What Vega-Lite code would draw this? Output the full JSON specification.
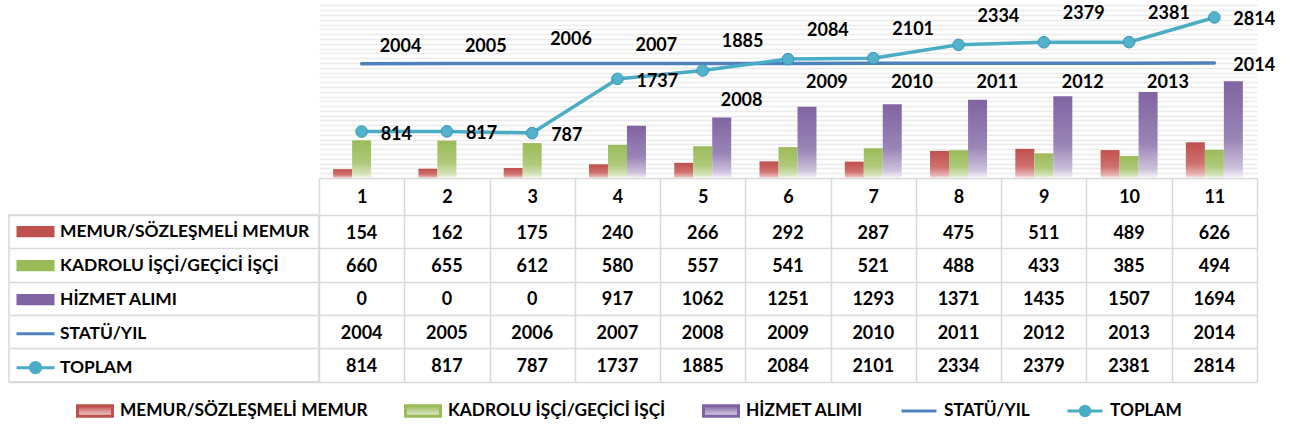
{
  "$schema": "https://vega.github.io/schema/vega-lite/v6.json",
  "padding": {"left": 8, "top": 0, "right": 4, "bottom": 4},
  "background": "white",
  "datasets": {
    "t": [
      {"cat": 1, "series": "MEMUR/SÖZLEŞMELİ MEMUR", "value": 154},
      {"cat": 2, "series": "MEMUR/SÖZLEŞMELİ MEMUR", "value": 162},
      {"cat": 3, "series": "MEMUR/SÖZLEŞMELİ MEMUR", "value": 175},
      {"cat": 4, "series": "MEMUR/SÖZLEŞMELİ MEMUR", "value": 240},
      {"cat": 5, "series": "MEMUR/SÖZLEŞMELİ MEMUR", "value": 266},
      {"cat": 6, "series": "MEMUR/SÖZLEŞMELİ MEMUR", "value": 292},
      {"cat": 7, "series": "MEMUR/SÖZLEŞMELİ MEMUR", "value": 287},
      {"cat": 8, "series": "MEMUR/SÖZLEŞMELİ MEMUR", "value": 475},
      {"cat": 9, "series": "MEMUR/SÖZLEŞMELİ MEMUR", "value": 511},
      {"cat": 10, "series": "MEMUR/SÖZLEŞMELİ MEMUR", "value": 489},
      {"cat": 11, "series": "MEMUR/SÖZLEŞMELİ MEMUR", "value": 626},
      {"cat": 1, "series": "KADROLU İŞÇİ/GEÇİCİ İŞÇİ", "value": 660},
      {"cat": 2, "series": "KADROLU İŞÇİ/GEÇİCİ İŞÇİ", "value": 655},
      {"cat": 3, "series": "KADROLU İŞÇİ/GEÇİCİ İŞÇİ", "value": 612},
      {"cat": 4, "series": "KADROLU İŞÇİ/GEÇİCİ İŞÇİ", "value": 580},
      {"cat": 5, "series": "KADROLU İŞÇİ/GEÇİCİ İŞÇİ", "value": 557},
      {"cat": 6, "series": "KADROLU İŞÇİ/GEÇİCİ İŞÇİ", "value": 541},
      {"cat": 7, "series": "KADROLU İŞÇİ/GEÇİCİ İŞÇİ", "value": 521},
      {"cat": 8, "series": "KADROLU İŞÇİ/GEÇİCİ İŞÇİ", "value": 488},
      {"cat": 9, "series": "KADROLU İŞÇİ/GEÇİCİ İŞÇİ", "value": 433},
      {"cat": 10, "series": "KADROLU İŞÇİ/GEÇİCİ İŞÇİ", "value": 385},
      {"cat": 11, "series": "KADROLU İŞÇİ/GEÇİCİ İŞÇİ", "value": 494},
      {"cat": 1, "series": "HİZMET ALIMI", "value": 0},
      {"cat": 2, "series": "HİZMET ALIMI", "value": 0},
      {"cat": 3, "series": "HİZMET ALIMI", "value": 0},
      {"cat": 4, "series": "HİZMET ALIMI", "value": 917},
      {"cat": 5, "series": "HİZMET ALIMI", "value": 1062},
      {"cat": 6, "series": "HİZMET ALIMI", "value": 1251},
      {"cat": 7, "series": "HİZMET ALIMI", "value": 1293},
      {"cat": 8, "series": "HİZMET ALIMI", "value": 1371},
      {"cat": 9, "series": "HİZMET ALIMI", "value": 1435},
      {"cat": 10, "series": "HİZMET ALIMI", "value": 1507},
      {"cat": 11, "series": "HİZMET ALIMI", "value": 1694},
      {"cat": 1, "series": "STATÜ/YIL", "value": 2004},
      {"cat": 2, "series": "STATÜ/YIL", "value": 2005},
      {"cat": 3, "series": "STATÜ/YIL", "value": 2006},
      {"cat": 4, "series": "STATÜ/YIL", "value": 2007},
      {"cat": 5, "series": "STATÜ/YIL", "value": 2008},
      {"cat": 6, "series": "STATÜ/YIL", "value": 2009},
      {"cat": 7, "series": "STATÜ/YIL", "value": 2010},
      {"cat": 8, "series": "STATÜ/YIL", "value": 2011},
      {"cat": 9, "series": "STATÜ/YIL", "value": 2012},
      {"cat": 10, "series": "STATÜ/YIL", "value": 2013},
      {"cat": 11, "series": "STATÜ/YIL", "value": 2014},
      {"cat": 1, "series": "TOPLAM", "value": 814},
      {"cat": 2, "series": "TOPLAM", "value": 817},
      {"cat": 3, "series": "TOPLAM", "value": 787},
      {"cat": 4, "series": "TOPLAM", "value": 1737},
      {"cat": 5, "series": "TOPLAM", "value": 1885},
      {"cat": 6, "series": "TOPLAM", "value": 2084},
      {"cat": 7, "series": "TOPLAM", "value": 2101},
      {"cat": 8, "series": "TOPLAM", "value": 2334},
      {"cat": 9, "series": "TOPLAM", "value": 2379},
      {"cat": 10, "series": "TOPLAM", "value": 2381},
      {"cat": 11, "series": "TOPLAM", "value": 2814}
    ]
  },
  "columns": 2,
  "spacing": {"row": 37, "column": 0},
  "bounds": "flush",
  "resolve": {"scale": {"color": "independent"}, "legend": {"color": "independent"}},
  "concat": [
    {
      "width": 310,
      "height": 178,
      "data": {"values": [{"a": 1}]},
      "mark": {"type": "text", "text": ""},
      "encoding": {}
    },
    {
      "width": 938,
      "height": 178,
      "data": {"name": "t"},
      "encoding": {
        "x": {
          "field": "cat",
          "type": "ordinal",
          "scale": {"type": "band", "paddingInner": 0, "paddingOuter": 0},
          "axis": {
            "orient": "bottom",
            "title": null,
            "labelAngle": 0,
            "domain": true,
            "domainColor": "#d9d9d9",
            "domainWidth": 1.5,
            "ticks": true,
            "tickBand": "extent",
            "tickSize": 37,
            "tickColor": "#d9d9d9",
            "tickWidth": 1.5,
            "labelFont": "Lato",
            "labelFontSize": 18,
            "labelFontWeight": "bold",
            "labelColor": "#000000",
            "labelBaseline": "middle",
            "labelPadding": -18
          }
        },
        "y": {
          "field": "value",
          "type": "quantitative",
          "scale": {"domain": [0, 3120], "nice": false, "zero": true},
          "axis": {
            "title": null,
            "labels": false,
            "ticks": false,
            "domain": false,
            "grid": true,
            "gridColor": "#ebebeb",
            "gridWidth": 1.5,
            "values": [84, 168, 252, 336, 420, 504, 588, 672, 756, 840, 924, 1008, 1092, 1176, 1260, 1344, 1428, 1512, 1596, 1680, 1764, 1848, 1932, 2016, 2100, 2184, 2268, 2352, 2436, 2520, 2604, 2688, 2772, 2856, 2940, 3024]
          }
        }
      },
      "layer": [
        {
          "transform": [{"filter": {"field": "series", "equal": "MEMUR/SÖZLEŞMELİ MEMUR"}}],
          "mark": {
            "type": "bar",
            "fill": {"gradient": "linear", "x1": 0, "y1": 0, "x2": 0, "y2": 1, "stops": [
              {"offset": 0, "color": "#c0504d"},
              {"offset": 0.6, "color": "#cf716e"},
              {"offset": 0.9, "color": "#e6b4b3"},
              {"offset": 1, "color": "#faeeee"}
            ]}
          },
          "encoding": {
            "xOffset": {"field": "series", "scale": {"domain": ["MEMUR/SÖZLEŞMELİ MEMUR", "KADROLU İŞÇİ/GEÇİCİ İŞÇİ", "HİZMET ALIMI"], "paddingInner": 0, "paddingOuter": 0.745}}
          }
        },
        {
          "transform": [{"filter": {"field": "series", "equal": "KADROLU İŞÇİ/GEÇİCİ İŞÇİ"}}],
          "mark": {
            "type": "bar",
            "fill": {"gradient": "linear", "x1": 0, "y1": 0, "x2": 0, "y2": 1, "stops": [
              {"offset": 0, "color": "#9bbb59"},
              {"offset": 0.6, "color": "#afc97a"},
              {"offset": 0.9, "color": "#d6e4bb"},
              {"offset": 1, "color": "#f6f9ef"}
            ]}
          },
          "encoding": {
            "xOffset": {"field": "series"}
          }
        },
        {
          "transform": [{"filter": {"field": "series", "equal": "HİZMET ALIMI"}}],
          "mark": {
            "type": "bar",
            "fill": {"gradient": "linear", "x1": 0, "y1": 0, "x2": 0, "y2": 1, "stops": [
              {"offset": 0, "color": "#8064a2"},
              {"offset": 0.6, "color": "#9a85b6"},
              {"offset": 0.9, "color": "#cdc2dc"},
              {"offset": 1, "color": "#f7f5fa"}
            ]}
          },
          "encoding": {
            "xOffset": {"field": "series"}
          }
        },
        {
          "transform": [{"filter": {"field": "series", "oneOf": ["STATÜ/YIL", "TOPLAM"]}}],
          "mark": {"type": "line", "strokeWidth": 3.5, "strokeCap": "round"},
          "encoding": {
            "color": {
              "field": "series",
              "type": "nominal",
              "scale": {
                "domain": ["MEMUR/SÖZLEŞMELİ MEMUR", "KADROLU İŞÇİ/GEÇİCİ İŞÇİ", "HİZMET ALIMI", "STATÜ/YIL", "TOPLAM"],
                "range": ["#c0504d", "#9bbb59", "#8064a2", "#4f81bd", "#4bacc6"]
              },
              "legend": {
                "orient": "none",
                "legendX": -243,
                "legendY": 401,
                "direction": "horizontal",
                "title": null,
                "clipHeight": 20,
                "columnPadding": 36,
                "padding": 0,
                "symbolSize": 1225,
                "symbolStrokeWidth": 3,
                "labelOffset": 6,
                "labelFont": "Lato",
                "labelFontSize": 17.3,
                "labelFontWeight": "bold",
                "labelColor": "#000000",
                "labelLimit": 400,
                "encode": {
                  "symbols": {
                    "update": {
                      "shape": {"signal": "datum.value == 'STATÜ/YIL' ? 'M-1,0H1' : datum.value == 'TOPLAM' ? 'M-1,0H-0.27M0.27,0H1M-0.27,0A0.27,0.27 0 1 1 0.27,0A0.27,0.27 0 1 1 -0.27,0Z' : 'M-1,-0.3H1V0.3H-1Z'"},
                      "fill": {"signal": "datum.value == 'STATÜ/YIL' ? 'transparent' : datum.value == 'TOPLAM' ? '#4bacc6' : {gradient: 'linear', x1: 0, y1: 0, x2: 0, y2: 1, stops: [{offset: 0, color: indexof(datum.value, 'MEMUR') >= 0 ? '#c0504d' : indexof(datum.value, 'KADROLU') >= 0 ? '#9bbb59' : '#8064a2'}, {offset: 1, color: indexof(datum.value, 'MEMUR') >= 0 ? '#f2d3d2' : indexof(datum.value, 'KADROLU') >= 0 ? '#e6eed6' : '#e0d8ea'}]}"},
                      "stroke": {"signal": "datum.value == 'STATÜ/YIL' ? '#4f81bd' : datum.value == 'TOPLAM' ? '#4bacc6' : 'transparent'"},
                      "opacity": {"value": 1}
                    }
                  }
                }
              }
            }
          }
        },
        {
          "transform": [{"filter": {"field": "series", "equal": "TOPLAM"}}],
          "mark": {"type": "point", "filled": true, "size": 135, "fill": "#52b2cc", "stroke": "#3a97b3", "strokeWidth": 1, "opacity": 1}
        },
        {
          "transform": [{"filter": {"and": [{"field": "series", "equal": "TOPLAM"}, {"field": "cat", "oneOf": [1, 2, 3, 4, 11]}]}}],
          "mark": {"type": "text", "align": "left", "baseline": "middle", "dx": 19, "dy": 3, "font": "Lato", "fontWeight": "bold", "fontSize": 18, "color": "#000000"},
          "encoding": {"text": {"field": "value", "type": "nominal"}}
        },
        {
          "transform": [{"filter": {"and": [{"field": "series", "equal": "TOPLAM"}, {"field": "cat", "oneOf": [5, 6, 7, 8, 9, 10]}]}}],
          "mark": {"type": "text", "align": "left", "baseline": "middle", "dx": 19, "dy": -28, "font": "Lato", "fontWeight": "bold", "fontSize": 18, "color": "#000000"},
          "encoding": {"text": {"field": "value", "type": "nominal"}}
        },
        {
          "transform": [{"filter": {"and": [{"field": "series", "equal": "STATÜ/YIL"}, {"field": "cat", "oneOf": [1, 2, 4]}]}}],
          "mark": {"type": "text", "align": "left", "baseline": "middle", "dx": 18, "dy": -17, "font": "Lato", "fontWeight": "bold", "fontSize": 18, "color": "#000000"},
          "encoding": {"text": {"field": "value", "type": "nominal"}}
        },
        {
          "transform": [{"filter": {"and": [{"field": "series", "equal": "STATÜ/YIL"}, {"field": "cat", "equal": 3}]}}],
          "mark": {"type": "text", "align": "left", "baseline": "middle", "dx": 18, "dy": -24, "font": "Lato", "fontWeight": "bold", "fontSize": 18, "color": "#000000"},
          "encoding": {"text": {"field": "value", "type": "nominal"}}
        },
        {
          "transform": [{"filter": {"and": [{"field": "series", "equal": "STATÜ/YIL"}, {"field": "cat", "equal": 5}]}}],
          "mark": {"type": "text", "align": "left", "baseline": "middle", "dx": 18, "dy": 38, "font": "Lato", "fontWeight": "bold", "fontSize": 18, "color": "#000000"},
          "encoding": {"text": {"field": "value", "type": "nominal"}}
        },
        {
          "transform": [{"filter": {"and": [{"field": "series", "equal": "STATÜ/YIL"}, {"field": "cat", "oneOf": [6, 7, 8, 9, 10]}]}}],
          "mark": {"type": "text", "align": "left", "baseline": "middle", "dx": 18, "dy": 20, "font": "Lato", "fontWeight": "bold", "fontSize": 18, "color": "#000000"},
          "encoding": {"text": {"field": "value", "type": "nominal"}}
        },
        {
          "transform": [{"filter": {"and": [{"field": "series", "equal": "STATÜ/YIL"}, {"field": "cat", "equal": 11}]}}],
          "mark": {"type": "text", "align": "left", "baseline": "middle", "dx": 19, "dy": 3, "font": "Lato", "fontWeight": "bold", "fontSize": 18, "color": "#000000"},
          "encoding": {"text": {"field": "value", "type": "nominal"}}
        }
      ]
    },
    {
      "width": 310,
      "height": 166.67,
      "view": {"stroke": "#d9d9d9", "strokeWidth": 1.5},
      "data": {"name": "t"},
      "transform": [{"filter": {"field": "cat", "equal": 1}}],
      "mark": {"type": "text", "text": ""},
      "encoding": {
        "y": {
          "field": "series",
          "type": "nominal",
          "scale": {"type": "band", "domain": ["MEMUR/SÖZLEŞMELİ MEMUR", "KADROLU İŞÇİ/GEÇİCİ İŞÇİ", "HİZMET ALIMI", "STATÜ/YIL", "TOPLAM"], "paddingInner": 0, "paddingOuter": 0},
          "axis": {"title": null, "labels": false, "ticks": false, "domain": false, "grid": true, "tickBand": "extent", "gridColor": "#d9d9d9", "gridWidth": 1.5}
        },
        "color": {
          "field": "series",
          "type": "nominal",
          "scale": {
            "domain": ["MEMUR/SÖZLEŞMELİ MEMUR", "KADROLU İŞÇİ/GEÇİCİ İŞÇİ", "HİZMET ALIMI", "STATÜ/YIL", "TOPLAM"],
            "range": ["#c0504d", "#9bbb59", "#8064a2", "#4f81bd", "#4bacc6"]
          },
          "legend": {
            "orient": "none",
            "legendX": 6,
            "legendY": 0,
            "direction": "vertical",
            "title": null,
            "clipHeight": 33.33,
            "rowPadding": 0,
            "padding": 0,
            "symbolSize": 1444,
            "symbolStrokeWidth": 3,
            "labelOffset": 4,
            "labelFont": "Lato",
            "labelFontSize": 17.4,
            "labelFontWeight": "bold",
            "labelColor": "#000000",
            "labelLimit": 400,
            "encode": {
              "symbols": {
                "update": {
                  "shape": {"signal": "datum.value == 'STATÜ/YIL' ? 'M-1,0H1' : datum.value == 'TOPLAM' ? 'M-1,0H-0.27M0.27,0H1M-0.27,0A0.27,0.27 0 1 1 0.27,0A0.27,0.27 0 1 1 -0.27,0Z' : 'M-1,-0.3H1V0.3H-1Z'"},
                  "fill": {"signal": "datum.value == 'STATÜ/YIL' ? 'transparent' : datum.value == 'TOPLAM' ? '#4bacc6' : {gradient: 'linear', x1: 0, y1: 0, x2: 0, y2: 1, stops: [{offset: 0, color: indexof(datum.value, 'MEMUR') >= 0 ? '#c0504d' : indexof(datum.value, 'KADROLU') >= 0 ? '#9bbb59' : '#8064a2'}, {offset: 1, color: indexof(datum.value, 'MEMUR') >= 0 ? '#f2d3d2' : indexof(datum.value, 'KADROLU') >= 0 ? '#e6eed6' : '#e0d8ea'}]}"},
                  "stroke": {"signal": "datum.value == 'STATÜ/YIL' ? '#4f81bd' : datum.value == 'TOPLAM' ? '#4bacc6' : 'transparent'"},
                  "opacity": {"value": 1}
                }
              }
            }
          }
        }
      }
    },
    {
      "width": 938,
      "height": 166.67,
      "data": {"name": "t"},
      "mark": {"type": "text", "font": "Lato", "fontWeight": "bold", "fontSize": 18, "color": "#000000", "dy": 2},
      "encoding": {
        "x": {
          "field": "cat",
          "type": "ordinal",
          "scale": {"type": "band", "paddingInner": 0, "paddingOuter": 0},
          "axis": {"title": null, "labels": false, "ticks": false, "domain": false, "grid": true, "tickBand": "extent", "gridColor": "#d9d9d9", "gridWidth": 1.5}
        },
        "y": {
          "field": "series",
          "type": "nominal",
          "scale": {"type": "band", "domain": ["MEMUR/SÖZLEŞMELİ MEMUR", "KADROLU İŞÇİ/GEÇİCİ İŞÇİ", "HİZMET ALIMI", "STATÜ/YIL", "TOPLAM"], "paddingInner": 0, "paddingOuter": 0},
          "axis": {"title": null, "labels": false, "ticks": false, "domain": false, "grid": true, "tickBand": "extent", "gridColor": "#d9d9d9", "gridWidth": 1.5}
        },
        "text": {"field": "value", "type": "nominal"}
      }
    }
  ],
  "config": {
    "font": "Lato",
    "view": {"stroke": null},
    "text": {"font": "Lato"}
  }
}
